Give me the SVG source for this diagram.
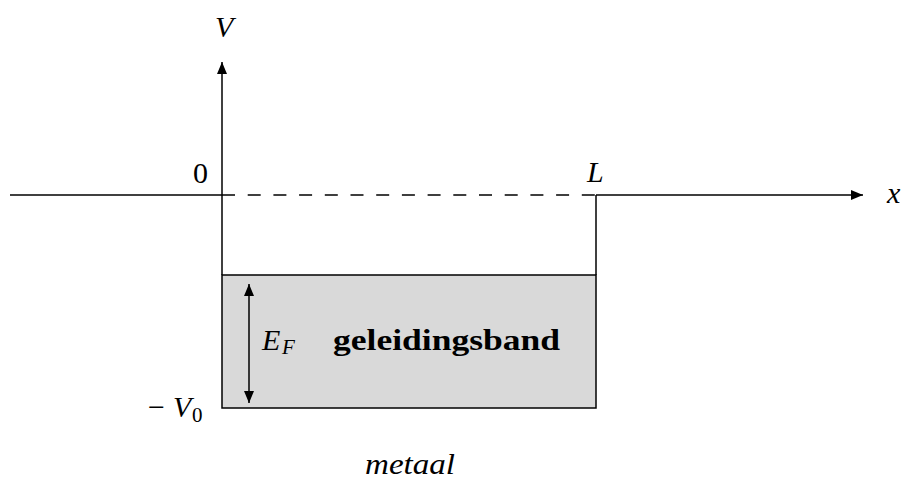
<svg xmlns="http://www.w3.org/2000/svg" width="905" height="479" viewBox="0 0 905 479">
<style>
.ln{stroke:#000;stroke-width:1.5;fill:none}
text{font-family:'Liberation Serif','Times New Roman','DejaVu Serif',serif;font-size:30px;fill:#000}
.i{font-style:italic}
.b{font-weight:bold}
.s{font-size:21px}
</style>
<defs>
<marker id="ah" viewBox="0 0 12 10" refX="12" refY="5" markerWidth="12" markerHeight="10" markerUnits="userSpaceOnUse" orient="auto-start-reverse">
<path d="M0,0 L12,5 L0,10 Z" fill="#000"/>
</marker>
</defs>
<rect width="905" height="479" fill="#fff"/>
<g id="band">
<rect x="222" y="275" width="374" height="133" fill="#d9d9d9" stroke="#000" stroke-width="1.5"/>
</g>
<g id="connectors">
<line class="ln" x1="10" y1="195" x2="222" y2="195"/>
<line class="ln" x1="596" y1="195" x2="863" y2="195" marker-end="url(#ah)"/>
<line class="ln" x1="222" y1="195" x2="596" y2="195" stroke-dasharray="13 12.7"/>
<line class="ln" x1="222" y1="275" x2="222" y2="62" marker-end="url(#ah)"/>
<line class="ln" x1="596" y1="195" x2="596" y2="275"/>
<line class="ln" x1="249" y1="284" x2="249" y2="403" marker-start="url(#ah)" marker-end="url(#ah)"/>
</g>
<g id="labels" font-family="Liberation Serif, Times New Roman, serif">
<text class="i" x="215" y="37">V</text>
<text x="193" y="183">0</text>
<text class="i" x="587" y="182">L</text>
<text class="i" x="887" y="203">x</text>
<text x="148" y="417">−</text>
<text class="i" x="173" y="417">V</text>
<text class="s" x="192" y="422">0</text>
<text class="i" x="262" y="350">E</text>
<text class="i s" x="282" y="354">F</text>
<text class="b" x="333" y="350" textLength="227" lengthAdjust="spacingAndGlyphs">geleidingsband</text>
<text class="i" x="365" y="474" textLength="90" lengthAdjust="spacingAndGlyphs">metaal</text>
</g>
</svg>
